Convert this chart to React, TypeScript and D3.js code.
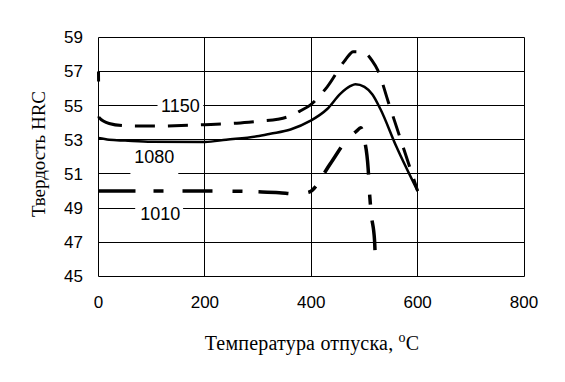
import React from "react";
import * as d3 from "d3";

const xTicks = [0, 200, 400, 600, 800];
const yTicks = [45, 47, 49, 51, 53, 55, 57, 59];

// series: [temperature °C, hardness HRC]
const s1150: [number, number][] = [
  [0, 57], [1, 54.3], [20, 53.95], [50, 53.82], [100, 53.8], [200, 53.88], [260, 53.97],
  [300, 54.08], [337, 54.2], [361, 54.4], [380, 54.7], [398, 55.03], [430, 56.1],
  [464, 57.67], [479, 58.16], [490, 58.15], [502, 58.06], [515, 57.6], [525, 57.08],
  [545, 55.2], [564, 53.4], [600, 50],
];
const s1080: [number, number][] = [
  [0, 53.1], [20, 53.0], [50, 52.95], [100, 52.88], [200, 52.87], [240, 53.0], [298, 53.2],
  [323, 53.35], [361, 53.6], [398, 54.1], [430, 54.8], [455, 55.7], [474, 56.15],
  [483, 56.25], [500, 56.1], [515, 55.65], [530, 54.8], [560, 52.6], [600, 50.0],
];
const s1010: [number, number][] = [
  [0, 50], [100, 50], [200, 50], [300, 49.95], [340, 49.9], [370, 49.82], [395, 49.92],
  [436, 51.6], [464, 52.88], [485, 53.5], [493, 53.7], [500, 53.0], [507, 51.3],
  [510, 49.7], [513, 48.6], [519, 47.1], [521, 45.5],
];

// labels: text, centre temperature, centre hardness, white box [t0, t1, v0, v1]
const labels = [
  { text: "1150", t: 154, v: 55.0, box: [111, 197, 54.7, 55.3] },
  { text: "1080", t: 105, v: 52.0, box: [60, 150, 50.8, 52.6] },
  { text: "1010", t: 116, v: 48.68, box: [69, 159, 48.2, 49.25] },
];

const W = 565;
const H = 382;

export default function App() {
  const x = d3.scaleLinear().domain([0, 800]).range([98.5, 524]);
  const y = d3.scaleLinear().domain([45, 59]).range([276.3, 37.3]);
  const crisp = (v: number) => Math.floor(v) + 0.5;

  const line = d3
    .line<[number, number]>()
    .x((d) => x(d[0]))
    .y((d) => y(d[1]))
    .curve(d3.curveMonotoneX);

  const dash1150 = ["10", "35", "26", "13", ...Array(40).fill("20,13")].join(",");
  const dash1010 = ["37", "18", "10", "19", ...Array(20).fill("30,20,10,16")].join(",");

  const x0 = crisp(x(0)), x1 = crisp(x(800));
  const y0 = crisp(y(45)), y1 = crisp(y(59));
  const sans = "'Liberation Sans', Arial, sans-serif";
  const serif = "'Liberation Serif', 'Times New Roman', serif";

  return (
    <svg
      width={W}
      height={H}
      style={{ position: "absolute", left: 0, top: 0, background: "#fff" }}
    >
      <rect x={0} y={0} width={W} height={H} fill="#fff" />
      {/* grid */}
      {xTicks.map((t) => (
        <line key={"gx" + t} x1={crisp(x(t))} x2={crisp(x(t))} y1={y1} y2={y0} stroke="#000" strokeWidth={1} />
      ))}
      {yTicks.map((t) => (
        <line key={"gy" + t} x1={x0} x2={x1} y1={crisp(y(t))} y2={crisp(y(t))} stroke="#000" strokeWidth={1} />
      ))}
      {/* label boxes */}
      {labels.map((l) => (
        <rect
          key={"b" + l.text}
          x={x(l.box[0])}
          width={x(l.box[1]) - x(l.box[0])}
          y={y(l.box[3])}
          height={y(l.box[2]) - y(l.box[3])}
          fill="#fff"
        />
      ))}
      {/* tick labels */}
      {yTicks.map((t) => (
        <text key={"ty" + t} x={83} y={y(t) + 6} textAnchor="end" fontFamily={sans} fontSize={17} fill="#000">
          {t}
        </text>
      ))}
      {xTicks.map((t) => (
        <text key={"tx" + t} x={x(t)} y={308} textAnchor="middle" fontFamily={sans} fontSize={17} fill="#000">
          {t}
        </text>
      ))}
      {/* curves */}
      <path d={line(s1080) || ""} fill="none" stroke="#000" strokeWidth={2.5} />
      <path d={line(s1150) || ""} fill="none" stroke="#000" strokeWidth={3} strokeDasharray={dash1150} />
      <path d={line(s1010) || ""} fill="none" stroke="#000" strokeWidth={3.5} strokeDasharray={dash1010} />
      {/* curve labels */}
      {labels.map((l) => (
        <text
          key={"l" + l.text}
          x={x(l.t)}
          y={y(l.v) + 6.5}
          textAnchor="middle"
          fontFamily={sans}
          fontSize={18}
          fill="#000"
        >
          {l.text}
        </text>
      ))}
      {/* axis titles */}
      <text x={312} y={350} textAnchor="middle" fontFamily={serif} fontSize={20} letterSpacing={0.2} fill="#000">
        Температура отпуска, <tspan dy={-8} fontSize={14}>o</tspan><tspan dy={8}>C</tspan>
      </text>
      <text
        transform={`translate(45, 154) rotate(-90)`}
        textAnchor="middle"
        fontFamily={serif}
        fontSize={19}
        fill="#000"
      >
        Твердость HRC
      </text>
    </svg>
  );
}
